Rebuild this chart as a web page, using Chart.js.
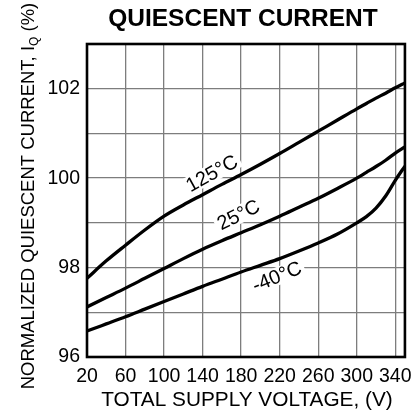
<!DOCTYPE html>
<html>
<head>
<meta charset="utf-8">
<script src="https://cdn.jsdelivr.net/npm/chart.js@4.4.1/dist/chart.umd.min.js"></script>
<style>
  html, body { margin: 0; padding: 0; background: #fff; }
  canvas { display: block; }
</style>
</head>
<body>
<canvas id="chart" width="420" height="411"></canvas>
<script>
// values
const voltage = [20, 40, 60, 80, 100, 120, 140, 160, 180, 200, 220, 240, 260, 280, 300, 310, 320, 330, 340, 350];
const iq125 = [97.76, 98.15, 98.5, 98.84, 99.15, 99.4, 99.63, 99.86, 100.08, 100.31, 100.55, 100.8, 101.05, 101.3, 101.55, 101.67, 101.79, 101.9, 102.02, 102.13];
const iq25 = [97.12, 97.33, 97.54, 97.76, 97.98, 98.2, 98.41, 98.6, 98.78, 98.96, 99.15, 99.35, 99.55, 99.77, 100.0, 100.13, 100.26, 100.4, 100.56, 100.7];
const iqM40 = [96.58, 96.74, 96.9, 97.07, 97.24, 97.41, 97.58, 97.74, 97.9, 98.05, 98.2, 98.37, 98.55, 98.75, 99.0, 99.14, 99.33, 99.6, 99.95, 100.27];
const seriesNames = ['125°C', '25°C', '-40°C'];
const xTicks = [20, 60, 100, 140, 180, 220, 260, 300, 340];
const yTicks = [96, 97, 98, 99, 100, 101, 102, 103];
const yTickLabels = [96, 98, 100, 102];

const FONT = '"Liberation Sans", Arial, Helvetica, sans-serif';
const pts = (ys) => voltage.map((v, i) => ({ x: v, y: ys[i] }));

// curve labels: [name, x (V), y (%), angle deg]
const curveLabels = [
  [seriesNames[0], 149.6, 100.11, -29],
  [seriesNames[1], 177.2, 99.18, -26.5],
  [seriesNames[2], 217.1, 97.8, -22]
];

const textPlugin = {
  id: 'texts',
  beforeDatasetsDraw(chart) {
    const { ctx, scales: { x, y } } = chart;
    ctx.save();
    ctx.font = '20px ' + FONT;
    ctx.textAlign = 'center';
    ctx.textBaseline = 'middle';
    curveLabels.forEach(([t, vx, vy, a]) => {
      const px = x.getPixelForValue(vx), py = y.getPixelForValue(vy);
      ctx.save();
      ctx.translate(px, py);
      ctx.rotate(a * Math.PI / 180);
      const w = ctx.measureText(t).width;
      ctx.fillStyle = '#fff';
      ctx.fillRect(-w / 2 - 3, -9, w + 6, 18);
      ctx.fillStyle = '#000';
      ctx.fillText(t, 0, 1);
      ctx.restore();
    });
    ctx.restore();
  },
  afterDatasetsDraw(chart) {
    const { ctx, chartArea: a } = chart;
    ctx.save();
    ctx.strokeStyle = '#000';
    ctx.lineWidth = 2.6;
    ctx.strokeRect(a.left, a.top, a.right - a.left, a.bottom - a.top);
    ctx.restore();
  },
  afterDraw(chart) {
    const { ctx, chartArea: a } = chart;
    const cx = (a.left + a.right) / 2;
    ctx.save();
    ctx.fillStyle = '#000';
    ctx.textAlign = 'center';
    ctx.textBaseline = 'middle';
    ctx.font = 'bold 24.5px ' + FONT;
    ctx.fillText('QUIESCENT CURRENT', cx - 3, 19);
    ctx.font = '20.8px ' + FONT;
    ctx.fillText('TOTAL SUPPLY VOLTAGE, (V)', cx + 1, 400);

    // y title with subscript Q
    const main = '18.5px ' + FONT, sub = '12px ' + FONT;
    const p1 = 'NORMALIZED QUIESCENT CURRENT, I', p2 = 'Q', p3 = ' (%)';
    ctx.font = main; const w1 = ctx.measureText(p1).width, w3 = ctx.measureText(p3).width;
    ctx.font = sub; const w2 = ctx.measureText(p2).width;
    const total = w1 + w2 + w3;
    ctx.translate(34, 196);
    ctx.rotate(-Math.PI / 2);
    ctx.textAlign = 'left';
    ctx.textBaseline = 'alphabetic';
    let sx = -total / 2;
    ctx.font = main; ctx.fillText(p1, sx, 0); sx += w1;
    ctx.font = sub; ctx.fillText(p2, sx, 4); sx += w2;
    ctx.font = main; ctx.fillText(p3, sx, 0);
    ctx.restore();
  }
};

const lineStyle = { borderColor: '#000', borderWidth: 3.3, pointRadius: 0, cubicInterpolationMode: 'monotone', fill: false };

new Chart(document.getElementById('chart').getContext('2d'), {
  type: 'line',
  data: {
    datasets: [
      { label: seriesNames[0], data: pts(iq125), ...lineStyle },
      { label: seriesNames[1], data: pts(iq25), ...lineStyle },
      { label: seriesNames[2], data: pts(iqM40), ...lineStyle }
    ]
  },
  options: {
    responsive: false,
    animation: false,
    devicePixelRatio: 1,
    layout: { padding: { top: 44, right: 14.5, left: 0, bottom: 0 } },
    plugins: { legend: { display: false }, tooltip: { enabled: false }, title: { display: false } },
    scales: {
      x: {
        type: 'linear', min: 20, max: 350,
        afterBuildTicks: (s) => { s.ticks = xTicks.map(v => ({ value: v })); },
        afterFit: (s) => { s.height = 54; },
        grid: { color: '#7d7d7d', lineWidth: 1.3, drawTicks: false },
        border: { display: false },
        ticks: { color: '#000', font: { family: FONT, size: 19.5 }, padding: 8, maxRotation: 0, autoSkip: false }
      },
      y: {
        type: 'linear', min: 96, max: 103,
        afterBuildTicks: (s) => { s.ticks = yTicks.map(v => ({ value: v })); },
        afterFit: (s) => { s.width = 87; },
        grid: { color: '#7d7d7d', lineWidth: 1.3, drawTicks: false },
        border: { display: false },
        ticks: {
          color: '#000', font: { family: FONT, size: 19.5 }, padding: 7, autoSkip: false,
          callback: (v) => yTickLabels.includes(v) ? String(v) : ''
        }
      }
    }
  },
  plugins: [textPlugin]
});
</script>
</body>
</html>
